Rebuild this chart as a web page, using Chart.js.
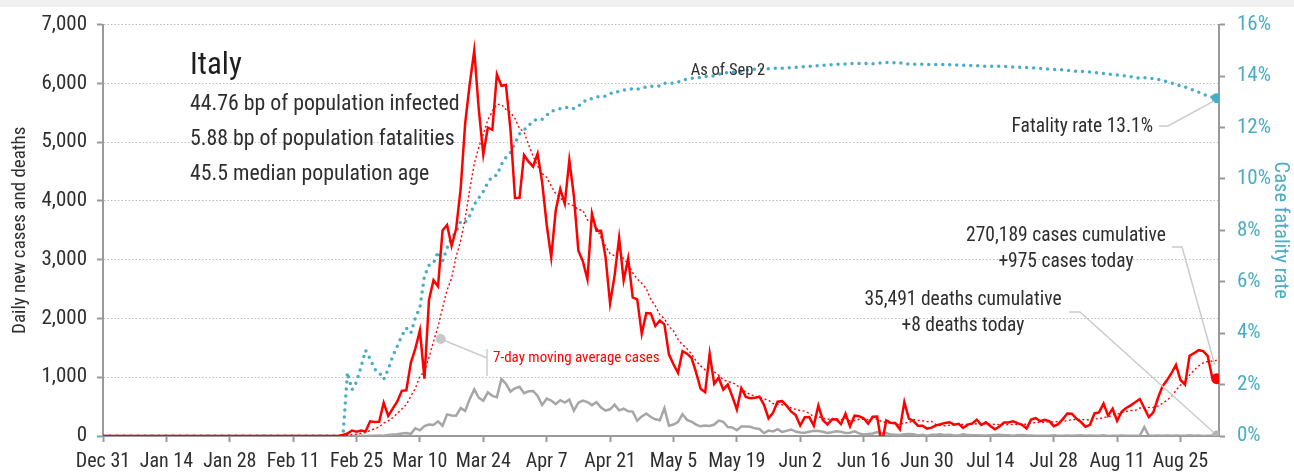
<!DOCTYPE html>
<html lang="en">
<head>
<meta charset="UTF-8">
<title>Italy - daily cases, deaths and case fatality rate</title>
<script src="https://cdn.jsdelivr.net/npm/chart.js"></script>
<style>
    body { margin: 0; background: #fff; }
    .wrap { width: 1294px; height: 474px; }
</style>
</head>
<body>
<div class="wrap"><canvas id="italyChart" width="1294" height="474"></canvas></div>
<script>
// x axis: days after Dec 31, one tick label every 14 days
const tickLabels = ['Dec 31', 'Jan 14', 'Jan 28', 'Feb 11', 'Feb 25', 'Mar 10', 'Mar 24', 'Apr 7', 'Apr 21',
    'May 5', 'May 19', 'Jun 2', 'Jun 16', 'Jun 30', 'Jul 14', 'Jul 28', 'Aug 11', 'Aug 25'];
const tickStep = 14;
const lastDay = 246;     // Sep 2
const firstDay = 53;     // all series are zero before this day

// daily new cases, from day 53 to day 246
const dailyCases = [
    17, 42, 93, 74, 93, 78, 250, 238, 240, 566,
    342, 466, 587, 769, 778, 1247, 1492, 1797, 977, 2313,
    2651, 2547, 3497, 3590, 3233, 3526, 4207, 5322, 5986, 6557,
    5560, 4789, 5249, 5210, 6153, 5959, 5974, 5217, 4050, 4053,
    4782, 4668, 4585, 4805, 4316, 3599, 3039, 3836, 4204, 3951,
    4694, 4092, 3153, 2972, 2667, 3786, 3493, 3491, 3047, 2256,
    2729, 3370, 2646, 3021, 2357, 2324, 1739, 2091, 2086, 1872,
    1965, 1900, 1389, 1221, 1075, 1444, 1401, 1327, 1083, 802,
    744, 1402, 888, 992, 789, 875, 675, 451, 813, 665,
    642, 652, 669, 531, 300, 397, 584, 593, 516, 416,
    355, 178, 318, 321, 177, 518, 270, 197, 280, 283,
    202, 379, 163, 346, 338, 301, 210, 328, 331, -148,
    264, 224, 221, 113, 577, 296, 255, 175, 174, 126,
    142, 182, 201, 223, 235, 192, 208, 137, 193, 214,
    276, 188, 234, 169, 114, 162, 230, 231, 249, 218,
    190, 128, 280, 306, 252, 274, 254, 168, 202, 288,
    382, 379, 295, 238, 159, 190, 384, 401, 552, 347,
    463, 259, 412, 476, 522, 574, 629, 477, 320, 401,
    642, 840, 947, 1071, 1209, 953, 876, 1366, 1409, 1460,
    1444, 1365, 996, 975
];

// 7-day moving average of cases
const casesAvg7 = [
    2, 8, 22, 32, 46, 57, 92, 124, 152, 220,
    258, 311, 384, 458, 535, 679, 812, 1019, 1092, 1339,
    1608, 1861, 2182, 2482, 2687, 3051, 3322, 3703, 4194, 4632,
    4913, 5135, 5381, 5525, 5643, 5640, 5556, 5507, 5402, 5231,
    5170, 4958, 4761, 4594, 4466, 4401, 4256, 4121, 4055, 3964,
    3948, 3916, 3853, 3843, 3676, 3616, 3551, 3379, 3230, 3102,
    3067, 3167, 3005, 2937, 2775, 2672, 2598, 2507, 2323, 2213,
    2062, 1997, 1863, 1789, 1644, 1552, 1485, 1394, 1277, 1193,
    1125, 1172, 1092, 1034, 957, 927, 909, 867, 783, 751,
    701, 682, 652, 632, 610, 551, 539, 532, 513, 477,
    452, 434, 423, 385, 326, 326, 305, 283, 297, 292,
    275, 304, 253, 264, 284, 287, 277, 295, 288, 244,
    232, 216, 204, 190, 226, 221, 279, 266, 259, 245,
    249, 193, 179, 175, 183, 186, 198, 197, 198, 200,
    208, 201, 207, 202, 198, 194, 196, 190, 198, 196,
    199, 201, 218, 229, 232, 235, 241, 237, 248, 249,
    260, 278, 281, 279, 278, 276, 290, 292, 317, 324,
    357, 371, 403, 416, 433, 436, 476, 478, 487, 486,
    509, 555, 608, 671, 776, 866, 934, 1037, 1119, 1192,
    1245, 1268, 1274, 1288
];

// daily deaths
const dailyDeaths = [
    1, 1, 1, 4, 3, 2, 5, 4, 8, 5,
    18, 27, 28, 41, 49, 36, 133, 97, 168, 196,
    189, 250, 175, 368, 349, 345, 475, 427, 627, 793,
    651, 601, 743, 683, 662, 969, 889, 756, 812, 837,
    727, 760, 766, 681, 525, 636, 604, 542, 610, 570,
    619, 431, 566, 602, 578, 525, 575, 482, 433, 454,
    534, 437, 464, 420, 415, 260, 333, 382, 323, 285,
    269, 474, 174, 195, 236, 369, 274, 243, 194, 165,
    179, 172, 195, 262, 242, 153, 145, 99, 162, 161,
    156, 130, 119, 50, 92, 78, 117, 70, 87, 111,
    75, 60, 55, 71, 88, 85, 72, 53, 65, 79,
    71, 53, 56, 78, 44, 26, 34, 43, 66, 47,
    49, 24, 23, 18, 30, 34, 30, 8, 22, 6,
    23, 21, 30, 15, 21, 7, 8, 30, 15, 12,
    12, 7, 9, 13, 17, 20, 11, 14, 3, 13,
    15, 9, 10, 5, 5, 5, 5, 11, 6, 3,
    9, 5, 8, 12, 5, 10, 6, 3, 13, 2,
    4, 6, 10, 6, 3, 6, 4, 150, 5, 5,
    7, 6, 9, 3, 7, 4, 4, 13, 5, 9,
    1, 4, 6, 8
];

// case fatality rate, percent (right axis)
const fatalityRate = [
    0, 2.47, 1.8, 2.1, 2.7, 3.33, 3.0, 2.6, 2.47, 2.2,
    2.6, 3.1, 3.5, 3.9, 4.2, 4.0, 4.6, 5.0, 6.22, 6.64,
    6.72, 7.17, 6.81, 7.31, 7.71, 7.94, 8.34, 8.30, 8.57, 9.01,
    9.26, 9.51, 9.86, 10.09, 10.14, 10.56, 10.84, 11.03, 11.39, 11.75,
    11.90, 12.07, 12.25, 12.33, 12.32, 12.47, 12.63, 12.67, 12.73, 12.77,
    12.79, 12.73, 12.83, 12.97, 13.11, 13.12, 13.19, 13.20, 13.22, 13.31,
    13.40, 13.39, 13.45, 13.46, 13.51, 13.48, 13.53, 13.58, 13.60, 13.61,
    13.61, 13.72, 13.71, 13.72, 13.76, 13.84, 13.88, 13.91, 13.93, 13.95,
    13.98, 13.97, 14.01, 14.06, 14.12, 14.13, 14.15, 14.17, 14.19, 14.22,
    14.25, 14.26, 14.27, 14.26, 14.28, 14.29, 14.31, 14.30, 14.31, 14.33,
    14.34, 14.35, 14.36, 14.37, 14.40, 14.40, 14.41, 14.43, 14.44, 14.45,
    14.47, 14.47, 14.48, 14.49, 14.49, 14.49, 14.49, 14.48, 14.49, 14.52,
    14.53, 14.52, 14.52, 14.52, 14.47, 14.47, 14.46, 14.46, 14.46, 14.45,
    14.45, 14.45, 14.45, 14.44, 14.44, 14.43, 14.42, 14.42, 14.42, 14.41,
    14.40, 14.39, 14.38, 14.38, 14.38, 14.38, 14.37, 14.36, 14.35, 14.34,
    14.34, 14.33, 14.32, 14.31, 14.29, 14.28, 14.27, 14.26, 14.25, 14.24,
    14.22, 14.20, 14.18, 14.18, 14.17, 14.16, 14.14, 14.12, 14.10, 14.08,
    14.05, 14.04, 14.02, 14.00, 13.97, 13.94, 13.91, 13.94, 13.92, 13.90,
    13.87, 13.83, 13.78, 13.73, 13.66, 13.62, 13.57, 13.51, 13.44, 13.37,
    13.29, 13.23, 13.18, 13.14
];

const RED = '#ff0000';
const BLUE = '#4bacc6';
const GREY = '#a6a6a6';
const INK = '#2e2e2e';
const FONT = "'Liberation Sans Narrow', 'Roboto Condensed', 'DejaVu Sans Condensed', sans-serif";

Chart.defaults.font.family = FONT;

// series are zero from Dec 31 until the first reported day
function toPoints(values) {
    const pts = [];
    for (let d = 0; d < firstDay; d++) pts.push({ x: d, y: 0 });
    values.forEach((v, i) => pts.push({ x: firstDay + i, y: v }));
    return pts;
}

function lastOnly(r) {
    return ctx => ctx.dataIndex === ctx.dataset.data.length - 1 ? r : 0;
}

function drawText(ctx, str, x, y, size, color, align) {
    ctx.font = size + 'px ' + FONT;
    ctx.fillStyle = color;
    ctx.textAlign = align || 'left';
    ctx.textBaseline = 'middle';
    ctx.fillText(str, x, y);
}

function drawPath(ctx, pts) {
    ctx.beginPath();
    ctx.moveTo(pts[0][0], pts[0][1]);
    for (let i = 1; i < pts.length; i++) ctx.lineTo(pts[i][0], pts[i][1]);
    ctx.stroke();
}

// text block, call-outs and the light strip at the top
const notesPlugin = {
    id: 'notes',
    beforeDraw(chart) {
        const ctx = chart.ctx;
        ctx.save();
        ctx.fillStyle = '#ffffff';
        ctx.fillRect(0, 0, chart.width, chart.height);
        ctx.fillStyle = '#f0f0f0';
        ctx.fillRect(0, 0, chart.width, 7);
        ctx.restore();
    },
    afterDatasetsDraw(chart) {
        const ctx = chart.ctx;
        const xs = chart.scales.x, ys = chart.scales.y;
        const endCases = chart.getDatasetMeta(0).data.at(-1);
        const endRate = chart.getDatasetMeta(2).data.at(-1);
        const endDeaths = chart.getDatasetMeta(3).data.at(-1);

        ctx.save();
        drawText(ctx, 'Italy', 190, 66, 31, '#1e1e1e');
        drawText(ctx, '44.76 bp of population infected', 190, 105, 21.8, INK);
        drawText(ctx, '5.88 bp of population fatalities', 190, 140, 21.8, INK);
        drawText(ctx, '45.5 median population age', 190, 175, 21.8, INK);

        drawText(ctx, 'As of Sep 2', 728, 71, 16.5, INK, 'center');

        ctx.strokeStyle = '#cccccc';
        ctx.lineWidth = 1.5;
        drawText(ctx, 'Fatality rate 13.1%', 1153, 127, 19.5, INK, 'right');
        drawPath(ctx, [[1159, 126], [1168, 126], [endRate.x - 3, endRate.y + 3]]);

        drawText(ctx, '270,189 cases cumulative', 1066, 236, 19.5, INK, 'center');
        drawText(ctx, '+975 cases today', 1066, 262, 19.5, INK, 'center');
        drawPath(ctx, [[1172, 247], [1182, 247], [endCases.x - 2, endCases.y - 14]]);

        drawText(ctx, '35,491 deaths cumulative', 963, 300, 19.5, INK, 'center');
        drawText(ctx, '+8 deaths today', 963, 326, 19.5, INK, 'center');
        drawPath(ctx, [[1069, 312], [1080, 312], [endDeaths.x - 3, endDeaths.y - 3]]);

        // pointer to the moving average line
        const px = xs.getPixelForValue(74.6), py = ys.getPixelForValue(1650);
        drawPath(ctx, [[px, py], [487, 358]]);
        drawPath(ctx, [[487, 349], [487, 376]]);
        ctx.fillStyle = '#c8c8c8';
        ctx.beginPath();
        ctx.arc(px, py, 5, 0, Math.PI * 2);
        ctx.fill();
        drawText(ctx, '7-day moving average cases', 493, 358, 15, RED);
        ctx.restore();
    }
};

const ctx = document.getElementById('italyChart').getContext('2d');
const chart = new Chart(ctx, {
    type: 'line',
    data: {
        datasets: [
            {
                label: 'Daily new cases',
                data: toPoints(dailyCases),
                yAxisID: 'y',
                borderColor: RED,
                borderWidth: 2.5,
                pointRadius: lastOnly(5.5),
                pointBackgroundColor: RED,
                pointBorderWidth: 0,
                order: 1
            },
            {
                label: '7-day moving average cases',
                data: toPoints(casesAvg7),
                yAxisID: 'y',
                borderColor: RED,
                borderWidth: 1.4,
                borderDash: [2, 2.5],
                pointRadius: 0,
                order: 2
            },
            {
                label: 'Case fatality rate',
                data: toPoints(fatalityRate),
                yAxisID: 'y2',
                borderColor: BLUE,
                borderWidth: 3.5,
                borderDash: [0, 7],
                borderCapStyle: 'round',
                pointRadius: lastOnly(5),
                pointBackgroundColor: BLUE,
                pointBorderWidth: 0,
                order: 3
            },
            {
                label: 'Daily deaths',
                data: toPoints(dailyDeaths),
                yAxisID: 'y',
                borderColor: GREY,
                borderWidth: 2.5,
                pointRadius: lastOnly(5),
                pointBackgroundColor: '#b4b4b4',
                pointBorderWidth: 0,
                order: 4
            }
        ]
    },
    options: {
        responsive: false,
        animation: false,
        events: [],
        layout: { padding: { top: 20 } },
        plugins: { legend: { display: false }, tooltip: { enabled: false } },
        scales: {
            x: {
                type: 'linear',
                min: 0,
                max: lastDay + 0.5,
                afterBuildTicks: s => { s.ticks = tickLabels.map((_, i) => ({ value: i * tickStep })); },
                afterFit: s => { s.height = 38; },
                ticks: {
                    callback: v => tickLabels[Math.round(v / tickStep)],
                    autoSkip: false,
                    maxRotation: 0,
                    font: { size: 20 },
                    color: INK,
                    padding: 8
                },
                grid: { drawOnChartArea: false, tickLength: 6, tickColor: '#999', tickWidth: 2 },
                border: { color: '#999', width: 2 }
            },
            y: {
                position: 'left',
                min: 0,
                max: 7000,
                afterFit: s => { s.width = 103; },
                ticks: {
                    stepSize: 1000,
                    callback: v => v.toLocaleString('en-US'),
                    font: { size: 21 },
                    color: INK,
                    padding: 10
                },
                grid: { color: '#bdbdbd', lineWidth: 1, tickLength: 6, tickColor: '#999', tickWidth: 2 },
                border: { color: '#999', width: 2, dash: [1.5, 2] },
                title: {
                    display: true,
                    text: 'Daily new cases and deaths',
                    font: { size: 19 },
                    color: INK,
                    padding: { top: 9, bottom: 0 }
                }
            },
            y2: {
                position: 'right',
                min: 0,
                max: 16,
                afterFit: s => { s.width = 75; },
                ticks: {
                    stepSize: 2,
                    callback: v => v + '%',
                    font: { size: 21 },
                    color: BLUE,
                    padding: 12
                },
                grid: { drawOnChartArea: false, tickLength: 6, tickColor: '#999', tickWidth: 2 },
                border: { color: '#999', width: 2 },
                title: {
                    display: true,
                    text: 'Case fatality rate',
                    font: { size: 20.5 },
                    color: BLUE,
                    padding: { top: 2, bottom: 0 }
                }
            }
        }
    },
    plugins: [notesPlugin]
});
</script>
</body>
</html>
